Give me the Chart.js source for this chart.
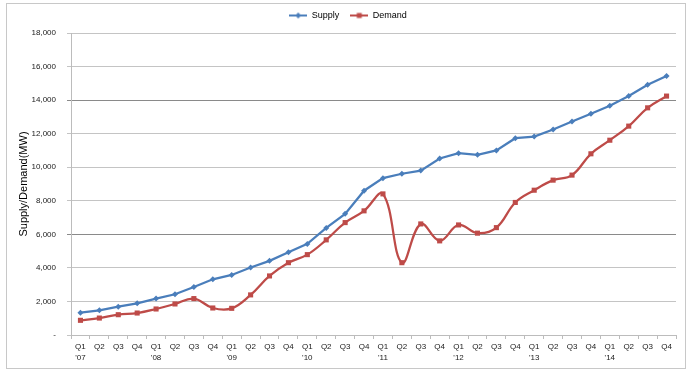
<!DOCTYPE html>
<html>
<head>
<meta charset="utf-8">
<script src="https://cdn.jsdelivr.net/npm/chart.js@4/dist/chart.umd.min.js"></script>
<style>
  html, body { margin: 0; padding: 0; background: #fff; }
  #wrap { position: relative; width: 700px; height: 374px; }
  #frame { position: absolute; left: 6px; top: 3px; width: 678px; height: 364px; border: 1px solid #c8c8c8; pointer-events: none; }
  canvas { position: absolute; left: 0; top: 0; }
</style>
</head>
<body>
<div id="wrap">
  <canvas id="c" width="700" height="374"></canvas>
  <div id="frame"></div>
</div>
<script>
const quarters = ["Q1","Q2","Q3","Q4","Q1","Q2","Q3","Q4","Q1","Q2","Q3","Q4","Q1","Q2","Q3","Q4",
                  "Q1","Q2","Q3","Q4","Q1","Q2","Q3","Q4","Q1","Q2","Q3","Q4","Q1","Q2","Q3","Q4"];
const yearLabels = ["'07","","","","'08","","","","'09","","","","'10","","","",
                    "'11","","","","'12","","","","'13","","","","'14","","",""];
const supply = [1330,1470,1690,1890,2170,2430,2860,3320,3580,4020,4420,4930,5430,6380,7220,8600,
                9350,9610,9800,10520,10840,10740,11000,11730,11830,12250,12730,13190,13660,14240,14920,15440];
const demand = [875,1010,1210,1310,1550,1850,2170,1610,1590,2390,3520,4310,4790,5670,6700,7400,
                8410,4310,6620,5610,6560,6070,6400,7900,8630,9230,9530,10800,11610,12450,13540,14240];
const yTicks = [0,2000,4000,6000,8000,10000,12000,14000,16000,18000];

const labels = quarters.map((q, i) => yearLabels[i] ? [q, yearLabels[i]] : [q]);
const BLUE = '#4a7ebb';
const RED = '#be4b48';

function legendIcon(color, shape) {
  const cv = document.createElement('canvas');
  cv.width = 18; cv.height = 8;
  const g = cv.getContext('2d');
  g.strokeStyle = color; g.lineWidth = 2;
  g.beginPath(); g.moveTo(0, 4); g.lineTo(18, 4); g.stroke();
  g.fillStyle = color;
  if (shape === 'diamond') {
    g.beginPath(); g.moveTo(9, 1); g.lineTo(12, 4); g.lineTo(9, 7); g.lineTo(6, 4); g.closePath(); g.fill();
  } else {
    g.fillRect(6.5, 1.5, 5, 5);
  }
  return cv;
}
const icons = [legendIcon(BLUE, 'diamond'), legendIcon(RED, 'square')];

const legendTweak = {
  id: 'legendTweak',
  beforeInit(chart) {
    const origFit = chart.legend.fit;
    chart.legend.fit = function () {
      origFit.bind(chart.legend)();
      this.height = 33;
    };
  },
  afterLayout(chart) {
    const lg = chart.legend;
    lg.left += 10; lg.right += 10;
    if (lg.adjustHitBoxes) lg.adjustHitBoxes();
  }
};

Chart.defaults.font.family = "'Liberation Sans', Arial, sans-serif";
Chart.defaults.color = '#000';

new Chart(document.getElementById('c'), {
  type: 'line',
  data: {
    labels: labels,
    datasets: [
      {
        label: 'Supply',
        data: supply,
        borderColor: BLUE,
        backgroundColor: BLUE,
        borderWidth: 2.25,
        pointStyle: 'rectRot',
        pointRadius: 3,
        pointBorderWidth: 0,
        tension: 0
      },
      {
        label: 'Demand',
        data: demand,
        borderColor: RED,
        backgroundColor: RED,
        borderWidth: 2.25,
        pointStyle: 'rect',
        pointRadius: 3.6,
        pointBorderWidth: 0,
        tension: 0.4,
        cubicInterpolationMode: 'default'
      }
    ]
  },
  plugins: [legendTweak],
  options: {
    responsive: false,
    animation: false,
    layout: { padding: { left: 0, right: 24, top: 0, bottom: 0 } },
    plugins: {
      legend: {
        display: true,
        position: 'top',
        labels: {
          usePointStyle: true,
          pointStyleWidth: 18,
          boxHeight: 8,
          padding: 11,
          font: { size: 9 },
          color: '#1a1a1a',
          generateLabels(chart) {
            return chart.data.datasets.map((ds, i) => ({
              text: ds.label,
              pointStyle: icons[i],
              fillStyle: ds.borderColor,
              strokeStyle: ds.borderColor,
              lineWidth: 0,
              datasetIndex: i,
              hidden: false
            }));
          }
        }
      },
      tooltip: { enabled: false }
    },
    scales: {
      x: {
        type: 'category',
        offset: true,
        afterFit(scale) { scale.height = 39; },
        grid: {
          offset: true,
          drawOnChartArea: false,
          drawTicks: true,
          tickLength: 4,
          color: '#bcbcbc'
        },
        border: { color: '#bcbcbc', width: 1 },
        ticks: {
          autoSkip: false,
          maxRotation: 0,
          minRotation: 0,
          padding: 2,
          font: { size: 8, lineHeight: 1.4 },
          color: '#1a1a1a'
        }
      },
      y: {
        min: 0,
        max: 18000,
        afterFit(scale) { scale.width = 71; },
        afterBuildTicks(scale) { scale.ticks = yTicks.map(v => ({ value: v })); },
        grid: {
          drawTicks: true,
          tickLength: 4,
          color(ctx) {
            const v = ctx.tick && ctx.tick.value;
            return (v === 14000 || v === 6000) ? '#8a8a8a' : '#c4c4c4';
          }
        },
        border: { color: '#bcbcbc', width: 1 },
        title: {
          display: true,
          text: 'Supply/Demand(MW)',
          font: { size: 11 },
          color: '#000',
          padding: { top: 17, bottom: 4 }
        },
        ticks: {
          padding: 11,
          font: { size: 8 },
          color: '#1a1a1a',
          callback(v) { return v === 0 ? '-' : v.toLocaleString('en-US'); }
        }
      }
    }
  }
});
</script>
</body>
</html>
